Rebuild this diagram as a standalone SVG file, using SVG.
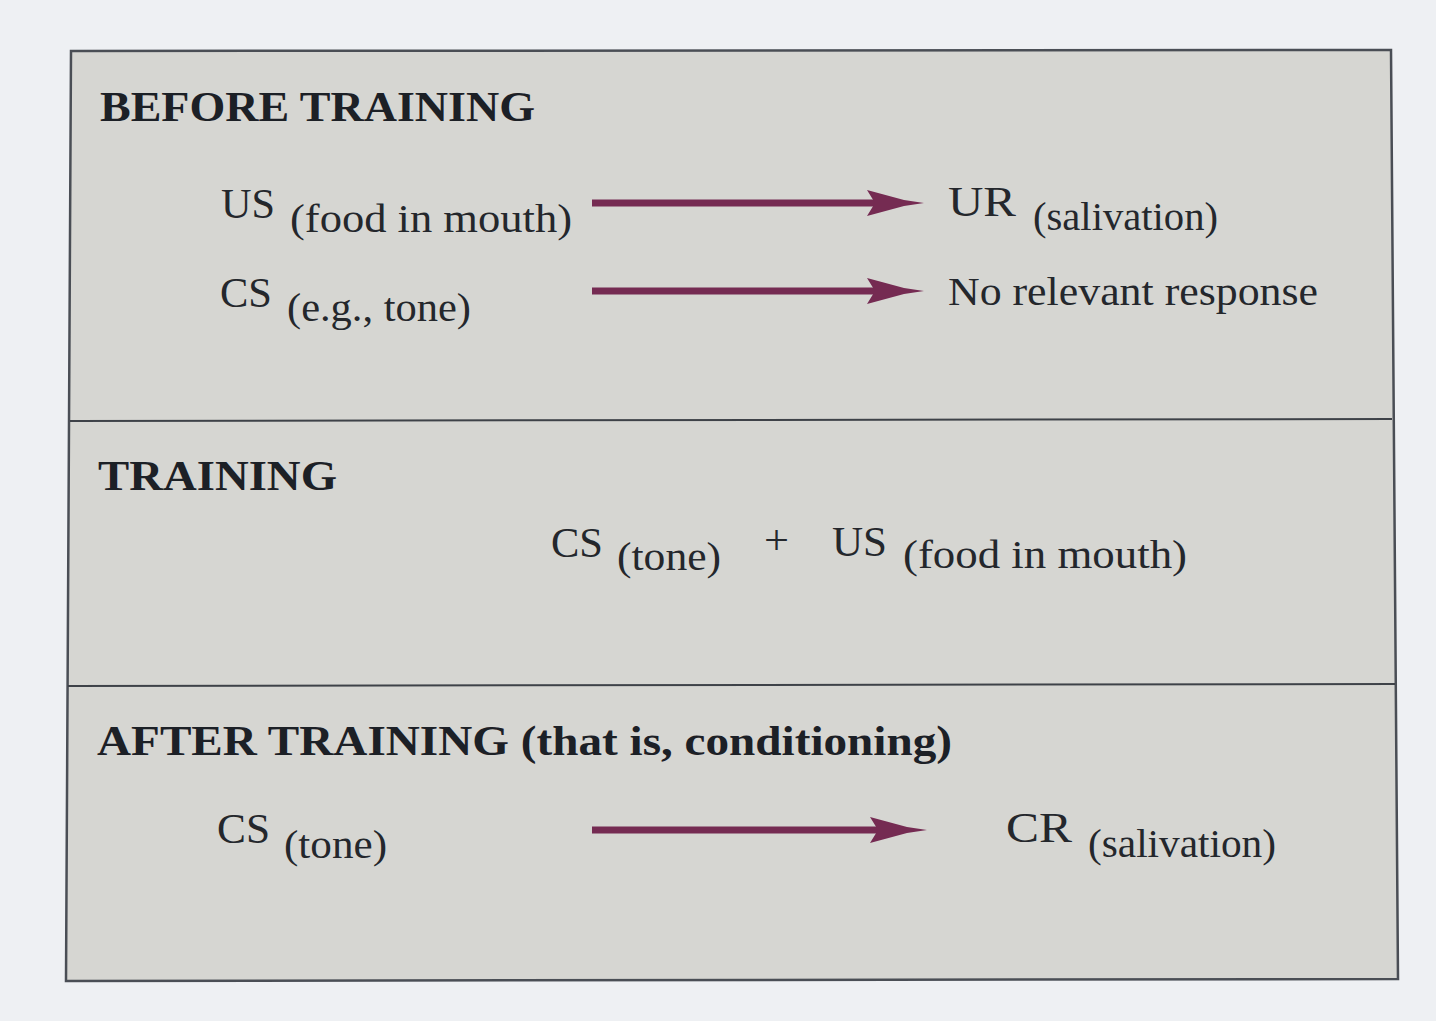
<svg xmlns="http://www.w3.org/2000/svg" width="1436" height="1021" viewBox="0 0 1436 1021">
  <defs>
    <style>
      .frame { fill: #d6d6d2; stroke: #4a4e55; stroke-width: 2.5; }
      .divider { stroke: #3e4248; stroke-width: 2; fill: none; }
      .head { font-family: "Liberation Serif", "DejaVu Serif", serif; font-weight: bold; font-size: 43px; fill: #1c2026; }
      .lbl { font-family: "Liberation Serif", "DejaVu Serif", serif; font-size: 43px; fill: #24272c; }
      .sub { font-family: "Liberation Serif", "DejaVu Serif", serif; font-size: 40px; fill: #24272c; }
      .shaft { stroke: #752b52; stroke-width: 7; fill: none; }
      .tip { fill: #752b52; }
    </style>
  </defs>
  <rect x="0" y="0" width="1436" height="1021" fill="#eef0f3"/>
  <polygon class="frame" points="71,51 1391,50 1398,979 66,981"/>
  <line class="divider" x1="70" y1="421" x2="1392" y2="419"/>
  <line class="divider" x1="68" y1="686" x2="1395" y2="684"/>

  <g id="before-heading"><text class="head" x="100" y="121" textLength="435" lengthAdjust="spacingAndGlyphs">BEFORE TRAINING</text></g>
  <g id="us-food">
    <text class="lbl" x="221" y="218" textLength="54" lengthAdjust="spacingAndGlyphs">US</text>
    <text class="sub" x="290" y="232" textLength="282" lengthAdjust="spacingAndGlyphs">(food in mouth)</text>
  </g>
  <g id="ur-salivation">
    <text class="lbl" x="948" y="216" textLength="68" lengthAdjust="spacingAndGlyphs">UR</text>
    <text class="sub" x="1033" y="230" textLength="185" lengthAdjust="spacingAndGlyphs">(salivation)</text>
  </g>
  <g id="cs-tone-before">
    <text class="lbl" x="220" y="307" textLength="52" lengthAdjust="spacingAndGlyphs">CS</text>
    <text class="sub" x="287" y="321" textLength="184" lengthAdjust="spacingAndGlyphs">(e.g., tone)</text>
  </g>
  <g id="no-response"><text class="sub" x="948" y="305" textLength="370" lengthAdjust="spacingAndGlyphs">No relevant response</text></g>

  <g id="training-heading"><text class="head" x="98" y="490" textLength="239" lengthAdjust="spacingAndGlyphs">TRAINING</text></g>
  <g id="cs-tone-training">
    <text class="lbl" x="551" y="557" textLength="52" lengthAdjust="spacingAndGlyphs">CS</text>
    <text class="sub" x="617" y="570" textLength="104" lengthAdjust="spacingAndGlyphs">(tone)</text>
  </g>
  <g id="plus"><text class="lbl" x="764" y="554" textLength="25" lengthAdjust="spacingAndGlyphs">+</text></g>
  <g id="us-food-training">
    <text class="lbl" x="832" y="556" textLength="55" lengthAdjust="spacingAndGlyphs">US</text>
    <text class="sub" x="903" y="568" textLength="284" lengthAdjust="spacingAndGlyphs">(food in mouth)</text>
  </g>

  <g id="after-heading"><text class="head" x="97" y="755" textLength="855" lengthAdjust="spacingAndGlyphs">AFTER TRAINING (that is, conditioning)</text></g>
  <g id="cs-tone-after">
    <text class="lbl" x="217" y="843" textLength="53" lengthAdjust="spacingAndGlyphs">CS</text>
    <text class="sub" x="284" y="858" textLength="103" lengthAdjust="spacingAndGlyphs">(tone)</text>
  </g>
  <g id="cr-salivation">
    <text class="lbl" x="1006" y="842" textLength="66" lengthAdjust="spacingAndGlyphs">CR</text>
    <text class="sub" x="1088" y="857" textLength="188" lengthAdjust="spacingAndGlyphs">(salivation)</text>
  </g>

  <g id="connectors">
    <g id="arrow-us-ur">
      <line class="shaft" x1="592" y1="203" x2="880" y2="203"/>
      <path class="tip" d="M867,190 L904,200 L924,203 L904,206 L867,216 L875,203 Z"/>
    </g>
    <g id="arrow-cs-none">
      <line class="shaft" x1="592" y1="291" x2="880" y2="291"/>
      <path class="tip" d="M867,278 L904,288 L924,291 L904,294 L867,304 L875,291 Z"/>
    </g>
    <g id="arrow-cs-cr">
      <line class="shaft" x1="592" y1="830" x2="882" y2="830"/>
      <path class="tip" d="M870,817 L907,827 L927,830 L907,833 L870,843 L878,830 Z"/>
    </g>
  </g>
</svg>
